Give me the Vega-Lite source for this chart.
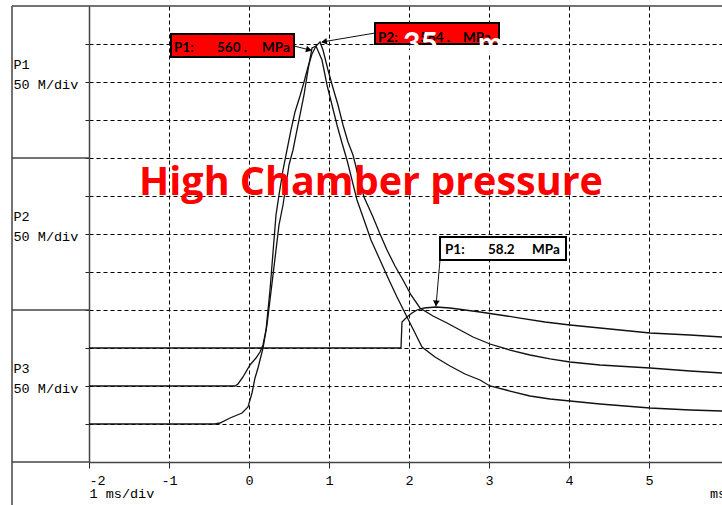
{
"$schema": "https://vega.github.io/schema/vega-lite/v6.json",
"autosize": {"type": "none"},
"padding": {"left": 89, "top": 6, "right": 0, "bottom": 43},
"width": 633,
"height": 456,
"background": "white",
"config": {"view": {"stroke": null}},
"datasets": {
"traces": [
{"s":"A","t":-2,"v":1.0},{"s":"A","t":-0.425,"v":1.0},{"s":"A","t":-0.3625,"v":1.026},{"s":"A","t":-0.2375,"v":1.158},{"s":"A","t":-0.0875,"v":1.289},{"s":"A","t":-0.0125,"v":1.447},{"s":"A","t":0.0375,"v":1.816},{"s":"A","t":0.075,"v":2.211},{"s":"A","t":0.1125,"v":2.474},{"s":"A","t":0.175,"v":3.0},{"s":"A","t":0.225,"v":3.605},{"s":"A","t":0.2625,"v":4.263},{"s":"A","t":0.3,"v":4.921},{"s":"A","t":0.3375,"v":5.579},{"s":"A","t":0.375,"v":6.237},{"s":"A","t":0.425,"v":6.763},{"s":"A","t":0.4625,"v":7.289},{"s":"A","t":0.5,"v":7.816},{"s":"A","t":0.55,"v":8.211},{"s":"A","t":0.6,"v":8.737},{"s":"A","t":0.6375,"v":9.132},{"s":"A","t":0.6875,"v":9.658},{"s":"A","t":0.7375,"v":10.316},{"s":"A","t":0.7875,"v":10.895},{"s":"A","t":0.8375,"v":10.947},{"s":"A","t":0.9125,"v":10.579},{"s":"A","t":0.975,"v":9.921},{"s":"A","t":1.0375,"v":9.395},{"s":"A","t":1.1,"v":8.868},{"s":"A","t":1.1625,"v":8.395},{"s":"A","t":1.225,"v":7.947},{"s":"A","t":1.2875,"v":7.421},{"s":"A","t":1.35,"v":6.895},{"s":"A","t":1.425,"v":6.447},{"s":"A","t":1.525,"v":5.842},{"s":"A","t":1.6375,"v":5.316},{"s":"A","t":1.75,"v":4.789},{"s":"A","t":1.85,"v":4.342},{"s":"A","t":1.9375,"v":3.974},{"s":"A","t":2.0125,"v":3.658},{"s":"A","t":2.0875,"v":3.342},{"s":"A","t":2.1625,"v":3.026},{"s":"A","t":2.325,"v":2.763},{"s":"A","t":2.5125,"v":2.526},{"s":"A","t":2.7,"v":2.316},{"s":"A","t":2.8875,"v":2.158},{"s":"A","t":3.0125,"v":2.0},{"s":"A","t":3.2625,"v":1.868},{"s":"A","t":3.5125,"v":1.737},{"s":"A","t":3.7625,"v":1.658},{"s":"A","t":4.0125,"v":1.605},{"s":"A","t":4.3875,"v":1.526},{"s":"A","t":5.0125,"v":1.421},{"s":"A","t":5.5125,"v":1.368},{"s":"A","t":5.9125,"v":1.342},
{"s":"B","t":-2,"v":2.0},{"s":"B","t":-0.175,"v":2.0},{"s":"B","t":-0.1375,"v":2.053},{"s":"B","t":-0.075,"v":2.237},{"s":"B","t":0.0125,"v":2.553},{"s":"B","t":0.0875,"v":2.737},{"s":"B","t":0.1375,"v":2.895},{"s":"B","t":0.175,"v":3.079},{"s":"B","t":0.2125,"v":3.474},{"s":"B","t":0.2375,"v":4.0},{"s":"B","t":0.2625,"v":4.526},{"s":"B","t":0.2875,"v":5.184},{"s":"B","t":0.3125,"v":5.842},{"s":"B","t":0.3375,"v":6.5},{"s":"B","t":0.375,"v":7.026},{"s":"B","t":0.425,"v":7.684},{"s":"B","t":0.475,"v":8.211},{"s":"B","t":0.525,"v":8.737},{"s":"B","t":0.575,"v":9.211},{"s":"B","t":0.6375,"v":9.632},{"s":"B","t":0.6875,"v":10.0},{"s":"B","t":0.7375,"v":10.395},{"s":"B","t":0.7875,"v":10.737},{"s":"B","t":0.8375,"v":10.947},{"s":"B","t":0.8875,"v":11.053},{"s":"B","t":0.925,"v":10.842},{"s":"B","t":0.9875,"v":10.316},{"s":"B","t":1.05,"v":9.842},{"s":"B","t":1.1125,"v":9.395},{"s":"B","t":1.175,"v":8.868},{"s":"B","t":1.2375,"v":8.421},{"s":"B","t":1.3,"v":8.079},{"s":"B","t":1.3625,"v":7.553},{"s":"B","t":1.4375,"v":6.974},{"s":"B","t":1.55,"v":6.447},{"s":"B","t":1.6375,"v":6.0},{"s":"B","t":1.725,"v":5.579},{"s":"B","t":1.825,"v":5.158},{"s":"B","t":1.925,"v":4.789},{"s":"B","t":2.025,"v":4.395},{"s":"B","t":2.1375,"v":4.053},{"s":"B","t":2.3,"v":3.842},{"s":"B","t":2.475,"v":3.658},{"s":"B","t":2.6375,"v":3.474},{"s":"B","t":2.8,"v":3.289},{"s":"B","t":3.0125,"v":3.105},{"s":"B","t":3.2625,"v":2.947},{"s":"B","t":3.5125,"v":2.816},{"s":"B","t":3.7625,"v":2.711},{"s":"B","t":4.0125,"v":2.632},{"s":"B","t":4.3875,"v":2.553},{"s":"B","t":5.0125,"v":2.474},{"s":"B","t":5.5125,"v":2.395},{"s":"B","t":5.9125,"v":2.342},
{"s":"C","t":-2,"v":3.0},{"s":"C","t":1.9,"v":3.0},{"s":"C","t":1.9125,"v":3.684},{"s":"C","t":1.975,"v":3.816},{"s":"C","t":2.0375,"v":3.921},{"s":"C","t":2.1,"v":4.0},{"s":"C","t":2.1875,"v":4.053},{"s":"C","t":2.3375,"v":4.079},{"s":"C","t":2.5125,"v":4.053},{"s":"C","t":2.7,"v":4.0},{"s":"C","t":2.8875,"v":3.947},{"s":"C","t":3.1375,"v":3.868},{"s":"C","t":3.3875,"v":3.789},{"s":"C","t":3.7,"v":3.684},{"s":"C","t":4.0125,"v":3.605},{"s":"C","t":4.3875,"v":3.526},{"s":"C","t":4.7625,"v":3.447},{"s":"C","t":5.0125,"v":3.395},{"s":"C","t":5.5125,"v":3.342},{"s":"C","t":5.9125,"v":3.289}
],
"frame": [
{"t":-2.9625,"v":-1.14,"t2":-2.9625,"v2":12},
{"t":-2.9625,"v":12,"t2":5.9125,"v2":12},
{"t":-2.9625,"v":8,"t2":-2,"v2":8},
{"t":-2.9625,"v":4,"t2":-2,"v2":4},
{"t":-2.9625,"v":0,"t2":-2,"v2":0}
],
"arrows": [
{"t":0.5625,"v":10.947,"t2":0.7625,"v2":10.842},
{"t":1.575,"v":11.289,"t2":0.9125,"v2":11.053},
{"t":2.3875,"v":5.316,"t2":2.3375,"v2":4.105}
],
"heads": [
{"t":0.7375,"v":10.855,"a":104},
{"t":0.95,"v":11.065,"a":260},
{"t":2.34,"v":4.2,"a":185}
],
"redboxes": [
{"t":-0.975,"t2":0.5625,"v":10.658,"v2":11.263},
{"t":1.575,"t2":3.125,"v":11.0,"v2":11.553}
],
"notebox": [
{"t":2.3875,"t2":3.9625,"v":5.316,"v2":5.921}
],
"labels": [
{"t":-0.9375,"v":10.789,"text":"P1:"},{"t":-0.4,"v":10.789,"text":"560 ."},{"t":0.1625,"v":10.789,"text":"MPa"},
{"t":1.6125,"v":11.053,"text":"P2:"},{"t":2.1375,"v":11.053,"text":"564 ."},{"t":2.675,"v":11.053,"text":"MPa"},
{"t":2.45,"v":5.474,"text":"P1:"},{"t":2.9875,"v":5.474,"text":"58.2"},{"t":3.5375,"v":5.474,"text":"MPa"}
],
"white": [{"t":1.925,"v":10.75,"text":"35"},{"t":2.8625,"v":10.75,"text":"m"}],
"title": [{"t":1.525,"v":7.026,"text":"High Chamber pressure"}],
"unit": [{"t":5.7625,"v":-0.842,"text":"ms"}]
},
"encoding": {
"x": {"field":"t","type":"quantitative","scale":{"domain":[-2,5.9125],"nice":false,"zero":false},
 "axis":{"values":[-2,-1,0,1,2,3,4,5],"grid":true,"gridColor":"#000","gridDash":[4,3],"gridOpacity":1,"gridWidth":1,
  "domainColor":"#444","domainWidth":1.5,"tickColor":"#222","tickSize":6,
  "labelFont":"Liberation Mono","labelFontSize":13.5,"labelColor":"#000","labelPadding":5,"labelFlush":true,"labelOverlap":false,
  "labelExpr":"'' + datum.value",
  "title":"1 ms/div","titleFont":"Liberation Mono","titleFontSize":13.5,"titleFontWeight":"normal","titleColor":"#000",
  "titleAnchor":"start","titleAlign":"left","titlePadding":0}},
"y": {"field":"v","type":"quantitative","scale":{"domain":[0,12],"nice":false,"zero":false},
 "axis":{"values":[1,2,3,4,5,6,7,8,9,10,11],"grid":true,"gridColor":"#000","gridDash":[4,3],"gridOpacity":1,"gridWidth":1,
  "domainColor":"#444","domainWidth":1.5,"tickColor":"#222","tickSize":4,
  "labelExpr":"datum.value == 10 ? ['P1','50 M/div'] : datum.value == 6 ? ['P2','50 M/div'] : datum.value == 2 ? ['P3','50 M/div'] : ''",
  "labelAlign":"left","labelBaseline":"alphabetic","labelPadding":72,"labelOffset":-14,
  "labelFont":"Liberation Mono","labelFontSize":13.5,"labelLineHeight":20,"labelColor":"#000","labelOverlap":false,"labelBound":false,
  "title":null}}
},
"layer": [
{"data":{"name":"traces"},"mark":{"type":"line","color":"#111","strokeWidth":1.3},"encoding":{"detail":{"field":"s"}}},
{"data":{"name":"frame"},"mark":{"type":"rule","color":"#444","strokeWidth":1.5},"encoding":{"x2":{"field":"t2"},"y2":{"field":"v2"}}},
{"data":{"name":"arrows"},"mark":{"type":"rule","color":"#111","strokeWidth":1},"encoding":{"x2":{"field":"t2"},"y2":{"field":"v2"}}},
{"data":{"name":"redboxes"},"mark":{"type":"rect","fill":"#ff0000","stroke":"#000","strokeWidth":2},"encoding":{"x2":{"field":"t2"},"y2":{"field":"v2"}}},
{"data":{"name":"notebox"},"mark":{"type":"rect","fill":"#fff","stroke":"#000","strokeWidth":2},"encoding":{"x2":{"field":"t2"},"y2":{"field":"v2"}}},
{"data":{"name":"labels"},"mark":{"type":"text","font":"Lato","fontWeight":"bold","fontSize":13.5,"color":"#000","align":"left","baseline":"alphabetic"},"encoding":{"text":{"field":"text"}}},
{"data":{"name":"white"},"mark":{"type":"text","font":"Lato","fontWeight":"bold","fontSize":30,"color":"#fff","align":"left","baseline":"alphabetic"},"encoding":{"text":{"field":"text"}}},
{"data":{"name":"heads"},"mark":{"type":"point","shape":"triangle","filled":true,"color":"#000","size":45,"opacity":1},"encoding":{"angle":{"field":"a","type":"quantitative","scale":null}}},
{"data":{"name":"title"},"mark":{"type":"text","font":"Open Sans","fontWeight":"bold","fontSize":39.5,"color":"#ff0000","align":"center","baseline":"alphabetic"},"encoding":{"text":{"field":"text"}}},
{"data":{"name":"unit"},"mark":{"type":"text","font":"Liberation Mono","fontSize":13.5,"color":"#000","align":"left","baseline":"middle"},"encoding":{"text":{"field":"text"}}}
]
}
